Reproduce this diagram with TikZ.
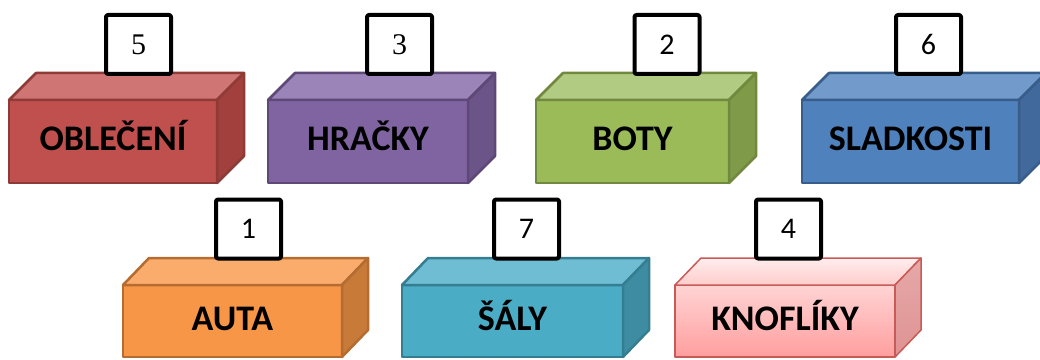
\documentclass[tikz,border=0pt]{standalone}
\usepackage{fontspec}
\setmainfont{Carlito}
\newfontfamily\serifnum{Liberation Serif}
\usepackage{tikz}
\definecolor{redfront}{HTML}{C0504D}
\definecolor{redtop}{HTML}{CF7674}
\definecolor{redside}{HTML}{A2403D}
\definecolor{redline}{HTML}{8E3A37}
\definecolor{purfront}{HTML}{8064A2}
\definecolor{purtop}{HTML}{9A84B8}
\definecolor{purside}{HTML}{6B5488}
\definecolor{purline}{HTML}{5E4878}
\definecolor{grnfront}{HTML}{9BBB59}
\definecolor{grntop}{HTML}{B2CB82}
\definecolor{grnside}{HTML}{7F9A48}
\definecolor{grnline}{HTML}{71893F}
\definecolor{blufront}{HTML}{4F81BD}
\definecolor{blutop}{HTML}{729BCB}
\definecolor{bluside}{HTML}{42699C}
\definecolor{bluline}{HTML}{385D8A}
\definecolor{orgfront}{HTML}{F79646}
\definecolor{orgtop}{HTML}{F9AC6C}
\definecolor{orgside}{HTML}{C87A39}
\definecolor{orgline}{HTML}{B56C30}
\definecolor{aqufront}{HTML}{4BACC6}
\definecolor{aqutop}{HTML}{6FBDD2}
\definecolor{aquside}{HTML}{3D8CA2}
\definecolor{aquline}{HTML}{357D91}
\definecolor{pnkline}{HTML}{C85A57}

\begin{document}
\begin{tikzpicture}[x=1pt, y=1pt, line join=round,
	crate/.style={draw, line width=2.5pt, outer sep=0pt, inner sep=0pt, minimum height=83pt, text height=23pt, text depth=5pt, font=\bfseries\fontsize{36}{40}\selectfont},
	face/.style={line width=2.5pt},
	numbox/.style={draw, line width=4pt, rounded corners=2pt, fill=white, inner sep=0pt, minimum width=65pt, minimum height=59pt, font=\fontsize{30}{32}\selectfont}]
	\useasboundingbox (0,0) rectangle (1040,359);
	\node[crate, draw=redline, fill=redfront, minimum width=208pt] (obleceni) at (113,217.5) {OBLEČENÍ};
	\draw[face, draw=redline, fill=redtop] (obleceni.north west) -- ++(27,27) -- ([shift={(27,27)}]obleceni.north east) -- (obleceni.north east) -- cycle;
	\draw[face, draw=redline, fill=redside] (obleceni.north east) -- ++(27,27) -- ([shift={(27,27)}]obleceni.south east) -- (obleceni.south east) -- cycle;
	\node[numbox] (cislo5) at (138.5,314.5) {\serifnum 5};
	\node[crate, draw=purline, fill=purfront, minimum width=200pt] (hracky) at (368,217.5) {HRAČKY};
	\draw[face, draw=purline, fill=purtop] (hracky.north west) -- ++(27,27) -- ([shift={(27,27)}]hracky.north east) -- (hracky.north east) -- cycle;
	\draw[face, draw=purline, fill=purside] (hracky.north east) -- ++(27,27) -- ([shift={(27,27)}]hracky.south east) -- (hracky.south east) -- cycle;
	\node[numbox] (cislo3) at (399.5,314.5) {\serifnum 3};
	\node[crate, draw=grnline, fill=grnfront, minimum width=193pt] (boty) at (632.5,217.5) {BOTY};
	\draw[face, draw=grnline, fill=grntop] (boty.north west) -- ++(27,27) -- ([shift={(27,27)}]boty.north east) -- (boty.north east) -- cycle;
	\draw[face, draw=grnline, fill=grnside] (boty.north east) -- ++(27,27) -- ([shift={(27,27)}]boty.south east) -- (boty.south east) -- cycle;
	\node[numbox] (cislo2) at (667,314.5) {2};
	\node[crate, draw=bluline, fill=blufront, minimum width=217pt] (sladkosti) at (910.5,217.5) {SLADKOSTI};
	\draw[face, draw=bluline, fill=blutop] (sladkosti.north west) -- ++(27,27) -- ([shift={(27,27)}]sladkosti.north east) -- (sladkosti.north east) -- cycle;
	\draw[face, draw=bluline, fill=bluside] (sladkosti.north east) -- ++(27,27) -- ([shift={(27,27)}]sladkosti.south east) -- (sladkosti.south east) -- cycle;
	\node[numbox] (cislo6) at (928.5,314.5) {6};
	\node[crate, draw=orgline, fill=orgfront, minimum width=219pt, minimum height=72pt] (auta) at (232.5,38) {AUTA};
	\draw[face, draw=orgline, fill=orgtop] (auta.north west) -- ++(26,27) -- ([shift={(26,27)}]auta.north east) -- (auta.north east) -- cycle;
	\draw[face, draw=orgline, fill=orgside] (auta.north east) -- ++(26,27) -- ([shift={(26,27)}]auta.south east) -- (auta.south east) -- cycle;
	\node[numbox] (cislo1) at (248.5,130) {1};
	\node[crate, draw=aquline, fill=aqufront, minimum width=221pt, minimum height=72pt] (saly) at (512.5,38) {ŠÁLY};
	\draw[face, draw=aquline, fill=aqutop] (saly.north west) -- ++(26,27) -- ([shift={(26,27)}]saly.north east) -- (saly.north east) -- cycle;
	\draw[face, draw=aquline, fill=aquside] (saly.north east) -- ++(26,27) -- ([shift={(26,27)}]saly.south east) -- (saly.south east) -- cycle;
	\node[numbox] (cislo7) at (526.5,130) {7};
	\node[crate, draw=pnkline, line width=1.5pt, top color=red!17!white, bottom color=red!38!white, minimum width=220pt, minimum height=72pt] (knofliky) at (785,38) {KNOFLÍKY};
	\draw[face, line width=1.5pt, draw=pnkline, top color=red!7!white, bottom color=red!20!white] (knofliky.north west) -- ++(26,27) -- ([shift={(26,27)}]knofliky.north east) -- (knofliky.north east) -- cycle;
	\draw[face, line width=1.5pt, draw=pnkline, top color=red!30!white!80!gray, bottom color=red!40!white!75!gray] (knofliky.north east) -- ++(26,27) -- ([shift={(26,27)}]knofliky.south east) -- (knofliky.south east) -- cycle;
	\node[numbox] (cislo4) at (788.5,130) {4};
\end{tikzpicture}
\end{document}
